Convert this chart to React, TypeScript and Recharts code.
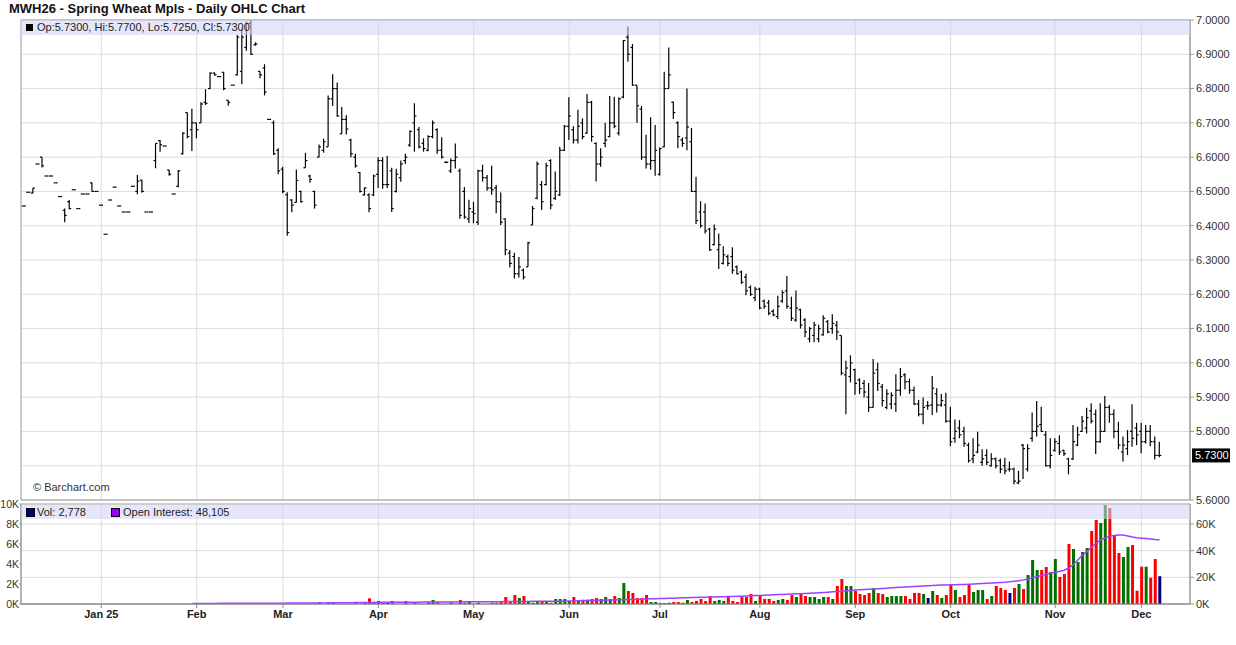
import React from 'react';
import { ComposedChart, Bar, Line, XAxis, YAxis, CartesianGrid, ReferenceArea, ReferenceLine, Cell } from 'recharts';

const FONT = '"Liberation Sans", Arial, sans-serif';

// month grid lines (trading-day index of first session) and their labels
const monthStarts = [17, 38, 57, 78, 99, 120, 140, 162, 183, 204, 227, 246];
const monthLabels = ['Jan 25', 'Feb', 'Mar', 'Apr', 'May', 'Jun', 'Jul', 'Aug', 'Sep', 'Oct', 'Nov', 'Dec'];

const priceGrid = [5.6, 5.7, 5.8, 5.9, 6.0, 6.1, 6.2, 6.3, 6.4, 6.5, 6.6, 6.7, 6.8, 6.9, 7.0];
// 5.7000 label is hidden behind the last-price box in the original
const priceTicks = [5.6, 5.8, 5.9, 6.0, 6.1, 6.2, 6.3, 6.4, 6.5, 6.6, 6.7, 6.8, 6.9, 7.0];
const volTicks = [0, 2000, 4000, 6000, 8000, 10000];
const oiTicks = [0, 20000, 40000, 60000];

// [open, high, low, close] per session, Dec 6 2024 .. Dec 5 2025
const priceBars: number[][] = [
  [6.4575, 6.4575, 6.4575, 6.4575], [6.4975, 6.4975, 6.4975, 6.4975], [6.495, 6.51, 6.495, 6.51], [6.58, 6.58, 6.58, 6.58],
  [6.6, 6.6, 6.57, 6.575], [6.545, 6.545, 6.545, 6.545], [6.545, 6.545, 6.545, 6.545], [6.525, 6.525, 6.525, 6.525],
  [6.485, 6.485, 6.485, 6.485], [6.445, 6.45, 6.41, 6.43], [6.47, 6.475, 6.448, 6.45], [6.505, 6.505, 6.505, 6.505],
  [6.45, 6.45, 6.45, 6.45], [6.4925, 6.4925, 6.4925, 6.4925], [6.4925, 6.4925, 6.4925, 6.4925], [6.525, 6.526, 6.5, 6.5],
  [6.5, 6.5, 6.5, 6.5], [6.46, 6.46, 6.46, 6.46], [6.375, 6.375, 6.375, 6.375], [6.475, 6.475, 6.475, 6.475],
  [6.5125, 6.5125, 6.5125, 6.5125], [6.4575, 6.4575, 6.4575, 6.4575], [6.44, 6.44, 6.44, 6.44], [6.44, 6.44, 6.44, 6.44],
  [6.515, 6.515, 6.515, 6.515], [6.5, 6.548, 6.492, 6.53], [6.533, 6.533, 6.496, 6.5], [6.44, 6.44, 6.44, 6.44],
  [6.44, 6.44, 6.44, 6.44], [6.59, 6.64, 6.5675, 6.64], [6.648, 6.65, 6.616, 6.636], [6.6325, 6.6325, 6.6325, 6.6325],
  [6.5625, 6.5625, 6.546, 6.55], [6.4925, 6.4925, 6.4925, 6.4925], [6.515, 6.5625, 6.512, 6.56], [6.61, 6.6725, 6.608, 6.67],
  [6.73, 6.73, 6.655, 6.66], [6.68, 6.741, 6.618, 6.7], [6.7, 6.7, 6.655, 6.68], [6.7, 6.76, 6.7, 6.755],
  [6.76, 6.798, 6.752, 6.757], [6.8, 6.8475, 6.799, 6.845], [6.845, 6.847, 6.838, 6.84], [6.835, 6.835, 6.835, 6.835],
  [6.8475, 6.8475, 6.795, 6.8], [6.766, 6.766, 6.75, 6.76], [6.81, 6.81, 6.81, 6.81], [6.84, 6.956, 6.838, 6.95],
  [6.85, 6.976, 6.8125, 6.95], [6.92, 6.995, 6.91, 6.99], [6.99, 7.0, 6.898, 6.9], [6.928, 6.935, 6.925, 6.93],
  [6.85, 6.85, 6.83, 6.84], [6.86, 6.871, 6.78, 6.79], [6.71, 6.71, 6.71, 6.71], [6.7, 6.7066, 6.6065, 6.61],
  [6.62, 6.626, 6.55, 6.56], [6.565, 6.572, 6.495, 6.5], [6.49, 6.4975, 6.371, 6.38], [6.475, 6.477, 6.439, 6.46],
  [6.468, 6.564, 6.468, 6.532], [6.5, 6.502, 6.468, 6.47], [6.569, 6.6125, 6.569, 6.59], [6.545, 6.549, 6.525, 6.535],
  [6.5, 6.502, 6.45, 6.46], [6.6, 6.637, 6.6, 6.63], [6.62, 6.654, 6.613, 6.645], [6.63, 6.78, 6.63, 6.77],
  [6.77, 6.842, 6.749, 6.8], [6.8, 6.818, 6.718, 6.72], [6.668, 6.746, 6.668, 6.71], [6.71, 6.722, 6.666, 6.682],
  [6.65, 6.654, 6.6, 6.61], [6.6, 6.61, 6.569, 6.575], [6.555, 6.557, 6.497, 6.5], [6.49, 6.512, 6.488, 6.51],
  [6.49, 6.495, 6.439, 6.45], [6.49, 6.549, 6.486, 6.545], [6.55, 6.6, 6.51, 6.59], [6.59, 6.6, 6.508, 6.52],
  [6.52, 6.603, 6.51, 6.52], [6.56, 6.569, 6.44, 6.45], [6.5, 6.566, 6.497, 6.55], [6.54, 6.59, 6.528, 6.58],
  [6.59, 6.61, 6.58, 6.6], [6.635, 6.678, 6.63, 6.675], [6.7, 6.757, 6.616, 6.72], [6.68, 6.688, 6.625, 6.63],
  [6.64, 6.655, 6.616, 6.625], [6.62, 6.664, 6.617, 6.66], [6.66, 6.707, 6.655, 6.7], [6.68, 6.684, 6.61, 6.62],
  [6.62, 6.658, 6.596, 6.6], [6.585, 6.588, 6.582, 6.585], [6.56, 6.596, 6.554, 6.59], [6.59, 6.64, 6.567, 6.6],
  [6.56, 6.567, 6.42, 6.43], [6.5, 6.513, 6.42, 6.425], [6.42, 6.476, 6.408, 6.45], [6.44, 6.47, 6.407, 6.435],
  [6.41, 6.563, 6.402, 6.56], [6.56, 6.578, 6.529, 6.54], [6.54, 6.548, 6.502, 6.51], [6.51, 6.575, 6.49, 6.505],
  [6.51, 6.519, 6.436, 6.47], [6.47, 6.497, 6.402, 6.41], [6.42, 6.421, 6.314, 6.33], [6.32, 6.329, 6.278, 6.29],
  [6.31, 6.321, 6.246, 6.26], [6.26, 6.309, 6.249, 6.28], [6.27, 6.275, 6.243, 6.25], [6.28, 6.353, 6.28, 6.35],
  [6.402, 6.4575, 6.402, 6.45], [6.48, 6.587, 6.477, 6.58], [6.52, 6.5305, 6.446, 6.47], [6.52, 6.584, 6.517, 6.575],
  [6.59, 6.594, 6.448, 6.46], [6.48, 6.558, 6.475, 6.5], [6.49, 6.63, 6.487, 6.62], [6.62, 6.694, 6.618, 6.69],
  [6.69, 6.775, 6.65, 6.72], [6.68, 6.69, 6.64, 6.65], [6.65, 6.738, 6.64, 6.69], [6.7, 6.713, 6.652, 6.66],
  [6.67, 6.784, 6.668, 6.76], [6.76, 6.764, 6.645, 6.66], [6.64, 6.643, 6.529, 6.58], [6.58, 6.626, 6.572, 6.6],
  [6.64, 6.7, 6.629, 6.65], [6.66, 6.778, 6.658, 6.7], [6.7, 6.776, 6.684, 6.69], [6.67, 6.775, 6.663, 6.77],
  [6.775, 6.942, 6.772, 6.94], [6.95, 6.981, 6.878, 6.9], [6.92, 6.93, 6.8085, 6.81], [6.81, 6.81, 6.7, 6.75],
  [6.74, 6.749, 6.592, 6.6], [6.6, 6.665, 6.567, 6.58], [6.58, 6.716, 6.563, 6.59], [6.59, 6.694, 6.546, 6.62],
  [6.55, 6.628, 6.546, 6.625], [6.63, 6.849, 6.629, 6.8], [6.8, 6.92, 6.8, 6.84], [6.76, 6.762, 6.711, 6.73],
  [6.7, 6.705, 6.626, 6.66], [6.65, 6.657, 6.63, 6.64], [6.656, 6.8, 6.62, 6.688], [6.645, 6.685, 6.4985, 6.5],
  [6.5, 6.5425, 6.405, 6.415], [6.44, 6.4716, 6.394, 6.4], [6.44, 6.465, 6.377, 6.385], [6.39, 6.394, 6.326, 6.33],
  [6.345, 6.4035, 6.342, 6.39], [6.33, 6.377, 6.274, 6.345], [6.29, 6.34, 6.287, 6.315], [6.31, 6.316, 6.282, 6.29],
  [6.31, 6.3375, 6.26, 6.27], [6.28, 6.284, 6.258, 6.26], [6.265, 6.269, 6.23, 6.235], [6.25, 6.26, 6.197, 6.21],
  [6.22, 6.226, 6.195, 6.2], [6.19, 6.222, 6.18, 6.215], [6.215, 6.219, 6.156, 6.16], [6.18, 6.185, 6.158, 6.165],
  [6.175, 6.183, 6.139, 6.145], [6.15, 6.156, 6.136, 6.14], [6.135, 6.196, 6.128, 6.165], [6.18, 6.212, 6.175, 6.205],
  [6.21, 6.253, 6.158, 6.165], [6.16, 6.193, 6.122, 6.13], [6.125, 6.211, 6.12, 6.16], [6.155, 6.158, 6.1, 6.11],
  [6.125, 6.13, 6.075, 6.09], [6.07, 6.105, 6.06, 6.1], [6.08, 6.12, 6.06, 6.11], [6.07, 6.111, 6.06, 6.1],
  [6.082, 6.139, 6.079, 6.13], [6.12, 6.125, 6.086, 6.09], [6.1, 6.142, 6.085, 6.115], [6.11, 6.122, 6.067, 6.09],
  [6.08, 6.08, 5.964, 5.97], [5.965, 6.006, 5.85, 5.985], [5.96, 6.022, 5.943, 6.0], [5.98, 5.983, 5.907, 5.94],
  [5.95, 5.955, 5.909, 5.925], [5.94, 5.95, 5.899, 5.915], [5.9, 5.941, 5.857, 5.87], [5.87, 6.011, 5.87, 5.97],
  [5.98, 6.0, 5.918, 5.94], [5.93, 5.938, 5.873, 5.89], [5.87, 5.923, 5.865, 5.91], [5.88, 5.914, 5.865, 5.905],
  [5.88, 5.967, 5.857, 5.92], [5.92, 5.985, 5.904, 5.96], [5.965, 5.97, 5.923, 5.945], [5.945, 5.954, 5.91, 5.92],
  [5.92, 5.931, 5.877, 5.88], [5.88, 5.892, 5.844, 5.85], [5.85, 5.899, 5.821, 5.87], [5.875, 5.889, 5.863, 5.875],
  [5.877, 5.9615, 5.848, 5.926], [5.91, 5.926, 5.855, 5.877], [5.877, 5.909, 5.872, 5.89], [5.877, 5.913, 5.825, 5.83],
  [5.83, 5.872, 5.757, 5.77], [5.78, 5.835, 5.767, 5.8], [5.81, 5.833, 5.78, 5.79], [5.8, 5.814, 5.755, 5.765],
  [5.76, 5.767, 5.709, 5.715], [5.72, 5.78, 5.707, 5.73], [5.74, 5.799, 5.736, 5.76], [5.71, 5.748, 5.7, 5.72],
  [5.73, 5.748, 5.702, 5.71], [5.7, 5.736, 5.697, 5.72], [5.72, 5.724, 5.692, 5.7], [5.715, 5.721, 5.678, 5.69],
  [5.7, 5.723, 5.675, 5.685], [5.69, 5.712, 5.683, 5.69], [5.69, 5.695, 5.646, 5.655], [5.65, 5.685, 5.646, 5.655],
  [5.76, 5.763, 5.661, 5.75], [5.69, 5.763, 5.683, 5.75], [5.78, 5.855, 5.77, 5.8], [5.8, 5.889, 5.785, 5.815],
  [5.82, 5.872, 5.799, 5.8], [5.79, 5.801, 5.698, 5.7], [5.7, 5.78, 5.692, 5.73], [5.745, 5.78, 5.741, 5.77],
  [5.765, 5.789, 5.731, 5.74], [5.745, 5.746, 5.728, 5.735], [5.72, 5.723, 5.675, 5.7], [5.72, 5.819, 5.717, 5.77],
  [5.76, 5.814, 5.757, 5.79], [5.8, 5.845, 5.799, 5.83], [5.81, 5.869, 5.794, 5.84], [5.86, 5.882, 5.823, 5.83],
  [5.85, 5.864, 5.734, 5.77], [5.77, 5.882, 5.767, 5.8], [5.8, 5.903, 5.799, 5.87], [5.87, 5.877, 5.825, 5.85],
  [5.85, 5.864, 5.78, 5.8], [5.8, 5.828, 5.748, 5.76], [5.74, 5.785, 5.712, 5.76], [5.75, 5.804, 5.731, 5.77],
  [5.8, 5.879, 5.755, 5.78], [5.81, 5.825, 5.76, 5.79], [5.8, 5.825, 5.736, 5.77], [5.77, 5.819, 5.765, 5.8],
  [5.8, 5.819, 5.757, 5.77], [5.77, 5.785, 5.718, 5.73], [5.73, 5.77, 5.725, 5.73],
];

// daily volume, same sessions
const volumes = [
  0, 0, 0, 0, 0, 0, 0, 0, 0, 0,
  0, 0, 0, 0, 0, 0, 0, 0, 0, 0,
  0, 0, 0, 0, 0, 0, 0, 0, 0, 0,
  0, 0, 0, 0, 0, 0, 0, 0, 0, 0,
  0, 0, 0, 0, 0, 0, 0, 0, 100, 0,
  0, 0, 0, 0, 0, 0, 100, 0, 0, 0,
  0, 0, 0, 0, 100, 200, 0, 170, 100, 0,
  0, 0, 0, 150, 0, 100, 570, 130, 300, 130,
  100, 300, 0, 0, 300, 0, 130, 0, 0, 170,
  400, 170, 0, 0, 130, 0, 400, 130, 200, 0,
  130, 0, 0, 130, 130, 230, 700, 230, 900, 600,
  800, 200, 130, 200, 200, 200, 130, 500, 500, 500,
  300, 700, 300, 430, 430, 500, 600, 500, 700, 500,
  800, 600, 2100, 1300, 1100, 600, 600, 900, 200, 200,
  100, 100, 130, 200, 200, 130, 400, 200, 300, 500,
  300, 800, 300, 400, 300, 700, 300, 200, 700, 700,
  1000, 300, 900, 500, 500, 300, 400, 500, 400, 900,
  700, 1000, 800, 700, 700, 500, 700, 700, 500, 1800,
  2500, 1800, 1800, 1300, 1000, 900, 1100, 1600, 1100, 1000,
  700, 800, 800, 800, 800, 500, 1100, 1100, 1000, 600,
  1300, 900, 600, 900, 1900, 1400, 700, 900, 1900, 1200,
  1400, 1400, 500, 800, 1800, 1600, 1400, 1100, 1600, 2000,
  1500, 2900, 4400, 3400, 3400, 3700, 3200, 4500, 2700, 3000,
  6000, 5500, 4200, 5200, 5600, 7300, 8400, 8100, 9900, 9600,
  6800, 5100, 4700, 5700, 5900, 1330, 3730, 3730, 2630, 4500,
  2778,
];

// open interest, from session 37 (early Feb) onward
const oiStart = 37;
const openInterest = [
  400, 420, 430, 440, 450, 460, 470, 480, 490, 500,
  510, 520, 530, 540, 550, 560, 570, 580, 600, 620,
  640, 660, 680, 700, 720, 740, 760, 780, 800, 830,
  860, 890, 920, 950, 980, 1010, 1040, 1070, 1100, 1130,
  1160, 1190, 1220, 1250, 1280, 1300, 1320, 1340, 1360, 1380,
  1400, 1420, 1440, 1460, 1480, 1500, 1520, 1540, 1560, 1580,
  1600, 1620, 1640, 1660, 1680, 1700, 1720, 1740, 1760, 1790,
  1820, 1850, 1880, 1910, 1940, 1970, 2000, 2030, 2060, 2090,
  2120, 2150, 2200, 2260, 2320, 2400, 2480, 2560, 2640, 2720,
  2800, 2880, 2960, 3040, 3120, 3250, 3350, 3450, 3550, 3650,
  3750, 3850, 3950, 4050, 4200, 4300, 4400, 4500, 4600, 4700,
  4800, 4900, 5000, 5100, 5200, 5300, 5400, 5500, 5600, 5700,
  5800, 5900, 6000, 6150, 6300, 6450, 6600, 6750, 6900, 7050,
  7200, 7350, 7500, 7650, 7750, 7900, 8100, 8300, 8500, 8700,
  8900, 9100, 9300, 9600, 9900, 10200, 10500, 10700, 10900, 11100,
  11300, 11500, 11700, 11900, 12100, 12300, 12500, 12700, 12900, 13100,
  13300, 13500, 13700, 13900, 14100, 14250, 14300, 14400, 14500, 14600,
  14700, 14800, 14950, 15100, 15300, 15500, 15700, 15900, 16100, 16300,
  16600, 17000, 17500, 18100, 18800, 19600, 20500, 21400, 22300, 23100,
  23800, 24500, 25300, 27000, 29500, 33000, 36500, 39500, 42500, 45500,
  48000, 49500, 50800, 51300, 51700, 51800, 51000, 50200, 49700, 49400,
  49100, 48800, 48400, 48105,
];

const X_DOMAIN: [number, number] = [-0.68, 256.7];

const data = priceBars.map(([o, h, l, c], i) => ({
  i, o, h, l, c,
  range: [l, h],
  vol: volumes[i],
  oi: i >= oiStart ? openInterest[i - oiStart] : null,
}));
const last = data[data.length - 1];

const volColor = (d: any) => (d.c > d.o ? '#006f00' : d.c < d.o ? '#ff0000' : '#000080');

const OhlcShape = (props: any) => {
  const { x, y, width, height, payload } = props;
  if (x == null || y == null) return null;
  const cx = x + width / 2;
  const top = Math.min(y, y + height);
  const bot = Math.max(y, y + height);
  const { o, h, l, c } = payload;
  const span = h - l;
  const yOf = (v: number) => (span > 0 ? top + ((h - v) / span) * (bot - top) : top);
  const yo = yOf(o);
  const yc = yOf(c);
  return (
    <g stroke="#000" strokeWidth={1.2}>
      {bot - top > 0.5 && <line x1={cx} x2={cx} y1={top} y2={bot} />}
      <line x1={cx - 2} x2={cx} y1={yo} y2={yo} />
      <line x1={cx} x2={cx + 2} y1={yc} y2={yc} />
    </g>
  );
};

const LastLabel = (props: any) => {
  const vb = props.viewBox || {};
  const x = (vb.x || 0) + (vb.width || 0) + 2;
  const y = vb.y || 0;
  return (
    <g>
      <rect x={x} y={y - 7} width={38} height={14} fill="#000" />
      <text x={x + 3} y={y + 4} fill="#fff" fontSize={11} fontFamily={FONT}>{last.c.toFixed(4)}</text>
    </g>
  );
};

const axisText = { fontSize: 11, fill: '#333', fontFamily: FONT };

export default function App() {
  return (
    <div style={{ position: 'absolute', left: 0, top: 0, width: 1236, height: 645, background: '#fff', fontFamily: FONT }}>
      <style>{'body{margin:0}'}</style>

      <div style={{ position: 'absolute', left: 0, top: 0 }}>
        <ComposedChart width={1236} height={512} data={data} margin={{ top: 20, right: 0, bottom: 12, left: 21 }}>
          <CartesianGrid stroke="#dcdcdc" verticalValues={monthStarts} horizontalValues={priceGrid} />
          <XAxis type="number" dataKey="i" domain={X_DOMAIN} allowDataOverflow ticks={monthStarts} hide />
          <YAxis
            orientation="right"
            domain={[5.6, 7.0]}
            allowDataOverflow
            ticks={priceTicks}
            tickFormatter={(v: number) => v.toFixed(4)}
            width={46}
            tick={axisText}
            tickSize={4}
            tickMargin={2}
            axisLine={{ stroke: '#999' }}
            tickLine={{ stroke: '#999' }}
            interval={0}
          />
          <ReferenceArea x1={X_DOMAIN[0]} x2={X_DOMAIN[1]} y1={5.6} y2={7.0} fill="none" stroke="#999" strokeWidth={1} />
          <Bar dataKey="range" shape={<OhlcShape />} barSize={4} isAnimationActive={false} />
          <ReferenceLine y={last.c} stroke="none" label={<LastLabel />} />
        </ComposedChart>
      </div>

      <div style={{ position: 'absolute', left: 0, top: 494 }}>
        <ComposedChart width={1236} height={131} data={data} margin={{ top: 10, right: 0, bottom: 0, left: 0 }}>
          <CartesianGrid stroke="#dcdcdc" yAxisId="oi" verticalValues={monthStarts} horizontalValues={oiTicks} />
          <XAxis
            type="number"
            dataKey="i"
            domain={X_DOMAIN}
            allowDataOverflow
            ticks={monthStarts}
            interval={0}
            tickFormatter={(v: number) => monthLabels[monthStarts.indexOf(v)] || ''}
            tick={{ ...axisText, fontWeight: 'bold', fill: '#222' }}
            tickSize={4}
            tickMargin={2}
            height={21}
            axisLine={{ stroke: '#888' }}
            tickLine={{ stroke: '#888' }}
          />
          <YAxis
            yAxisId="vol"
            orientation="left"
            domain={[0, 10000]}
            allowDataOverflow
            ticks={volTicks}
            interval={0}
            tickFormatter={(v: number) => `${v / 1000}K`}
            width={21}
            tick={{ ...axisText, fontSize: 10.5 }}
            tickSize={2}
            tickMargin={0}
            axisLine={{ stroke: '#999' }}
            tickLine={{ stroke: '#999' }}
          />
          <YAxis
            yAxisId="oi"
            orientation="right"
            domain={[0, 75000]}
            allowDataOverflow
            ticks={oiTicks}
            interval={0}
            tickFormatter={(v: number) => `${v / 1000}K`}
            width={46}
            tick={axisText}
            tickSize={4}
            tickMargin={2}
            axisLine={{ stroke: '#999' }}
            tickLine={{ stroke: '#999' }}
          />
          <ReferenceArea yAxisId="vol" x1={X_DOMAIN[0]} x2={X_DOMAIN[1]} y1={0} y2={10000} fill="none" stroke="#999" />
          <Bar yAxisId="vol" dataKey="vol" barSize={3} isAnimationActive={false}>
            {data.map((d) => (
              <Cell key={d.i} fill={volColor(d)} />
            ))}
          </Bar>
          <Line yAxisId="oi" dataKey="oi" stroke="#a040ff" strokeWidth={1.5} dot={false} isAnimationActive={false} />
        </ComposedChart>
      </div>

      {/* title */}
      <div style={{ position: 'absolute', left: 9, top: 1, fontSize: 13, fontWeight: 'bold', color: '#111' }}>
        MWH26 - Spring Wheat Mpls - Daily OHLC Chart
      </div>

      {/* price legend band */}
      <div style={{ position: 'absolute', left: 21, top: 20, width: 1169, height: 15, background: 'rgba(211,211,246,0.57)' }}>
        <div style={{ position: 'absolute', left: 5, top: 4, width: 7, height: 7, background: '#000' }} />
        <div style={{ position: 'absolute', left: 16, top: 0, fontSize: 11, lineHeight: '15px', color: '#222' }}>
          Op:5.7300, Hi:5.7700, Lo:5.7250, Cl:5.7300
        </div>
      </div>

      <div style={{ position: 'absolute', left: 33, top: 481, fontSize: 11, color: '#333' }}>© Barchart.com</div>

      {/* volume legend band */}
      <div style={{ position: 'absolute', left: 21, top: 505, width: 1169, height: 14, background: 'rgba(211,211,246,0.57)' }}>
        <div style={{ position: 'absolute', left: 5, top: 3, width: 7, height: 7, background: '#000080', border: '1px solid #000' }} />
        <div style={{ position: 'absolute', left: 16, top: 0, fontSize: 11, lineHeight: '14px', color: '#222' }}>Vol: 2,778</div>
        <div style={{ position: 'absolute', left: 90, top: 3, width: 7, height: 7, background: '#9900ff', border: '1px solid #000' }} />
        <div style={{ position: 'absolute', left: 102, top: 0, fontSize: 11, lineHeight: '14px', color: '#222' }}>Open Interest: 48,105</div>
      </div>
    </div>
  );
}
